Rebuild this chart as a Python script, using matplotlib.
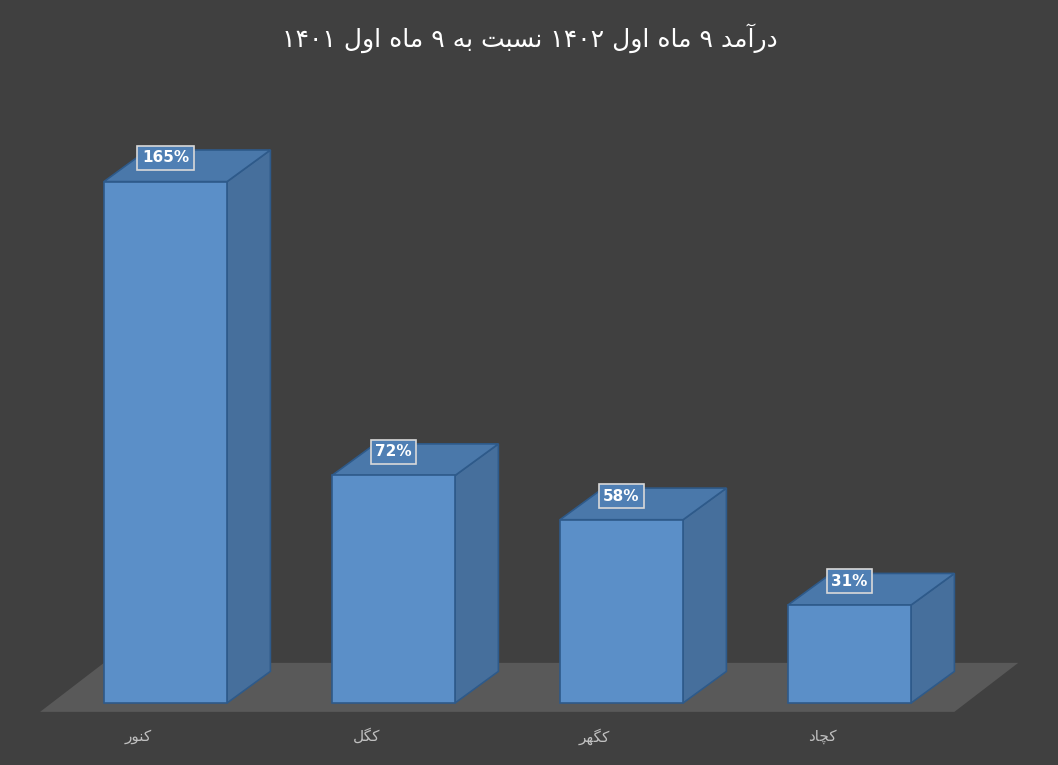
import matplotlib
matplotlib.use("Agg")
import matplotlib.pyplot as plt
from matplotlib.patches import Polygon

title = "درآمد ۹ ماه اول ۱۴۰۲ نسبت به ۹ ماه اول ۱۴۰۱"
categories = ["کنور", "کگل", "کگهر", "کچاد"]
values = [165, 72, 58, 31]
value_labels = ["165%", "72%", "58%", "31%"]

# minimal Arabic/Persian shaping: (isolated, final, initial, medial)
FORMS = {
    "ا": ("\uFE8D", "\uFE8E", None, None), "آ": ("\uFE81", "\uFE82", None, None),
    "ب": ("\uFE8F", "\uFE90", "\uFE91", "\uFE92"), "ت": ("\uFE95", "\uFE96", "\uFE97", "\uFE98"),
    "د": ("\uFEA9", "\uFEAA", None, None), "ر": ("\uFEAD", "\uFEAE", None, None),
    "س": ("\uFEB1", "\uFEB2", "\uFEB3", "\uFEB4"), "ل": ("\uFEDD", "\uFEDE", "\uFEDF", "\uFEE0"),
    "م": ("\uFEE1", "\uFEE2", "\uFEE3", "\uFEE4"), "ن": ("\uFEE5", "\uFEE6", "\uFEE7", "\uFEE8"),
    "ه": ("\uFEE9", "\uFEEA", "\uFEEB", "\uFEEC"), "و": ("\uFEED", "\uFEEE", None, None),
    "ک": ("\uFB8E", "\uFB8F", "\uFB90", "\uFB91"), "گ": ("\uFB92", "\uFB93", "\uFB94", "\uFB95"),
    "چ": ("\uFB7A", "\uFB7B", "\uFB7C", "\uFB7D"),
}

def shape(s):
    out = []
    for i, c in enumerate(s):
        if c not in FORMS:
            out.append(c); continue
        p = s[i-1] if i > 0 else ""
        n = s[i+1] if i + 1 < len(s) else ""
        jp = p in FORMS and FORMS[p][2] is not None
        jn = FORMS[c][2] is not None and n in FORMS
        iso, fin, ini, med = FORMS[c]
        if jp and jn: out.append(med)
        elif jp: out.append(fin)
        elif jn: out.append(ini)
        else: out.append(iso)
    s = "".join(out)
    toks, cur, curd = [], "", None
    for c in s:
        d = c in "۰۱۲۳۴۵۶۷۸۹0123456789"
        if cur and d != curd:
            toks.append((cur, curd)); cur = ""
        cur += c; curd = d
    if cur: toks.append((cur, curd))
    return "".join(t if d else t[::-1] for t, d in reversed(toks))

W, H = 1058, 765
fig = plt.figure(figsize=(W/100, H/100), dpi=100, facecolor="#404040")
ax = fig.add_axes([0, 0, 1, 1])
ax.set_facecolor("#404040")
pxu = 228.0
ppv = 3.16
ax.set_xlim(-165.5/pxu, (W-165.5)/pxu)
ax.set_ylim(-62/ppv, (H-62)/ppv)
ax.axis("off")

# floor
ax.add_patch(Polygon([(-0.55, -2.8), (3.46, -2.8), (3.74, 12.7), (-0.27, 12.7)],
                     closed=True, facecolor="#595959", edgecolor="none", zorder=1))

hw = 0.27
dx, dy = 0.19, 10.0
ec = "#2E5A8A"
for i, v in enumerate(values):
    x0, x1 = i - hw, i + hw
    ax.add_patch(Polygon([(x1, 0), (x1+dx, dy), (x1+dx, v+dy), (x1, v)],
                         facecolor="#466F9C", edgecolor=ec, lw=1.2, zorder=2))
    ax.add_patch(Polygon([(x0, v), (x1, v), (x1+dx, v+dy), (x0+dx, v+dy)],
                         facecolor="#4A78AA", edgecolor=ec, lw=1.2, zorder=2))
    ax.add_patch(Polygon([(x0, 0), (x1, 0), (x1, v), (x0, v)],
                         facecolor="#5B8FC8", edgecolor=ec, lw=1.2, zorder=3))
    ax.text(i, v + 7.5, value_labels[i], ha="center", va="center", color="white",
            fontsize=11, fontweight="bold", zorder=5,
            bbox=dict(boxstyle="square,pad=0.3", facecolor="#4F7FB4", edgecolor="#D9D9D9", lw=1.2))
    ax.text(i - 0.12, -10.5, shape(categories[i]), ha="center", va="center",
            color="#BFBFBF", fontsize=11, family="DejaVu Sans")

fig.text(530/W, 1 - 38/H, shape(title), ha="center", va="center", color="white",
         fontsize=18, family="DejaVu Sans")

fig.savefig("out.png", dpi=100, facecolor="#404040")
